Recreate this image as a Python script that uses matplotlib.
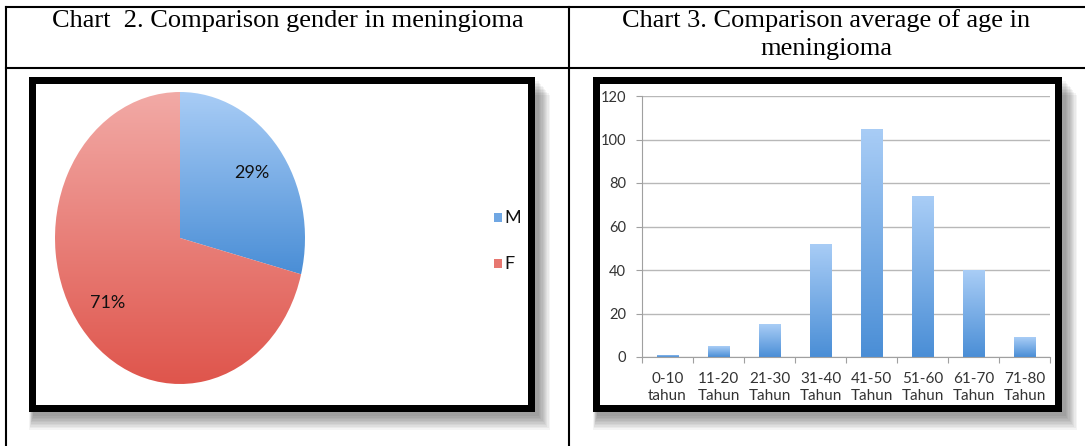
import matplotlib
matplotlib.use("Agg")
import matplotlib.pyplot as plt
import matplotlib.patches as patches
from matplotlib.lines import Line2D
from matplotlib.colors import LinearSegmentedColormap
import numpy as np

W, H = 1085, 446

# --- Data ---
gender_labels = ["M", "F"]
gender_share = [29, 71]

age_groups = ["0-10\ntahun", "11-20\nTahun", "21-30\nTahun", "31-40\nTahun",
              "41-50\nTahun", "51-60\nTahun", "61-70\nTahun", "71-80\nTahun"]
age_counts = [1, 5, 15, 52, 105, 74, 40, 9]
y_ticks = [0, 20, 40, 60, 80, 100, 120]

# colours (light top -> darker bottom)
blue_grad = LinearSegmentedColormap.from_list("bl", ["#4a8ed6", "#a9cdf6"])
red_grad = LinearSegmentedColormap.from_list("rd", ["#df554c", "#f2aaa6"])

plt.rcParams['font.family'] = ['Lato', 'DejaVu Sans']

fig = plt.figure(figsize=(W / 100, H / 100), dpi=100)
fig.patch.set_facecolor("white")


def fx(x):
    return x / W


def fy(y):
    return 1 - y / H


def px_axes(left, top, right, bottom):
    return fig.add_axes([fx(left), fy(bottom), (right - left) / W, (bottom - top) / H])


# --- Table lines ---
for (x0, y0, x1, y1) in [(6, 7, W, 7), (6, 68, W, 68), (6, 7, 6, H), (569, 7, 569, H)]:
    fig.add_artist(Line2D([fx(x0), fx(x1)], [fy(y0), fy(y1)], color="black",
                          lw=1.5, transform=fig.transFigure))

serif = "Liberation Serif"
fig.text(fx(288), fy(21), "Chart  2. Comparison gender in meningioma",
         family=serif, fontsize=19, ha="center", va="center")
fig.text(fx(826), fy(21), "Chart 3. Comparison average of age in",
         family=serif, fontsize=19, ha="center", va="center")
fig.text(fx(826), fy(49), "meningioma",
         family=serif, fontsize=19, ha="center", va="center")


# --- Frames with drop shadow ---
def frame(left, top, right, bottom, thick=7):
    for i in range(10):
        g = patches.Rectangle((fx(left + 4 - i * 0.4), fy(bottom + 4 + i * 1.5)),
                              (right - left + i * 1.6) / W, (bottom - top) / H,
                              transform=fig.transFigure, facecolor="#000000",
                              alpha=0.045, edgecolor="none", zorder=-5)
        fig.add_artist(g)
    fig.add_artist(patches.Rectangle((fx(left), fy(bottom)), (right - left) / W,
                                     (bottom - top) / H, transform=fig.transFigure,
                                     facecolor="black", edgecolor="none", zorder=-4))
    fig.add_artist(patches.Rectangle((fx(left + thick), fy(bottom - thick)),
                                     (right - left - 2 * thick) / W,
                                     (bottom - top - 2 * thick) / H,
                                     transform=fig.transFigure,
                                     facecolor="white", edgecolor="none", zorder=-3))


frame(29, 77, 535, 412)
frame(593, 77, 1062, 412)

# --- Pie chart ---
ax1 = px_axes(55, 92, 305, 384)
ax1.patch.set_alpha(0)
wedges, _, pct = ax1.pie(gender_share, startangle=90, counterclock=False,
                         autopct=lambda p: f"{p:.0f}%", pctdistance=0.73,
                         wedgeprops=dict(linewidth=0))
ax1.set_aspect("auto")
grad = np.linspace(0, 1, 256).reshape(-1, 1)
for w, cmap in zip(wedges, [blue_grad, red_grad]):
    w.set_facecolor("none")
    bb = w.get_path().get_extents()
    im = ax1.imshow(grad, cmap=cmap, origin="lower", aspect="auto",
                    extent=[bb.x0, bb.x1, bb.y0, bb.y1], zorder=1)
    im.set_clip_path(w)
ax1.set_xlim(-1, 1)
ax1.set_ylim(-1, 1)
for t in pct:
    t.set_fontsize(13)
    t.set_color("#111111")
    t.set_zorder(3)

# legend
for lab, cmap, yy in zip(gender_labels, [blue_grad, red_grad], [217, 263]):
    sq = patches.Rectangle((fx(494), fy(yy + 5)), 8 / W, 9 / H, transform=fig.transFigure,
                           facecolor=cmap(0.4), edgecolor="none")
    fig.add_artist(sq)
    fig.text(fx(504), fy(yy + 1), lab, fontsize=13, color="#111111", va="center", ha="left")

# --- Bar chart ---
ax2 = px_axes(642, 96, 1050, 357)
ax2.patch.set_alpha(0)
x = np.arange(len(age_counts))
bars = ax2.bar(x, age_counts, width=0.42, color="none", edgecolor="none", zorder=2)
for b in bars:
    x0, w_, h_ = b.get_x(), b.get_width(), b.get_height()
    im = ax2.imshow(grad, cmap=blue_grad, origin="lower", aspect="auto",
                    extent=[x0, x0 + w_, 0, h_], zorder=2)
    im.set_clip_path(b)

ax2.set_xlim(-0.5, len(age_counts) - 0.5)
ax2.set_ylim(0, 120)
ax2.set_yticks(y_ticks)
ax2.yaxis.grid(True, color="#b8b8b8", lw=1)
ax2.set_axisbelow(True)
ax2.set_xticks(np.arange(-0.5, len(age_counts)), labels=[])
ax2.set_xticks(x, minor=True)
ax2.set_xticklabels(age_groups, minor=True, linespacing=1.25)
ax2.tick_params(axis="x", which="major", length=4, color="#a0a0a0", direction="out")
ax2.tick_params(axis="x", which="minor", length=0, pad=11, labelsize=11, labelcolor="#333333")
ax2.tick_params(axis="y", length=4.3, color="#a0a0a0", labelsize=10.5, labelcolor="#333333", pad=7)
for s in ["top", "right"]:
    ax2.spines[s].set_visible(False)
for s in ["left", "bottom"]:
    ax2.spines[s].set_color("#a0a0a0")

fig.savefig("out.png", dpi=100)
